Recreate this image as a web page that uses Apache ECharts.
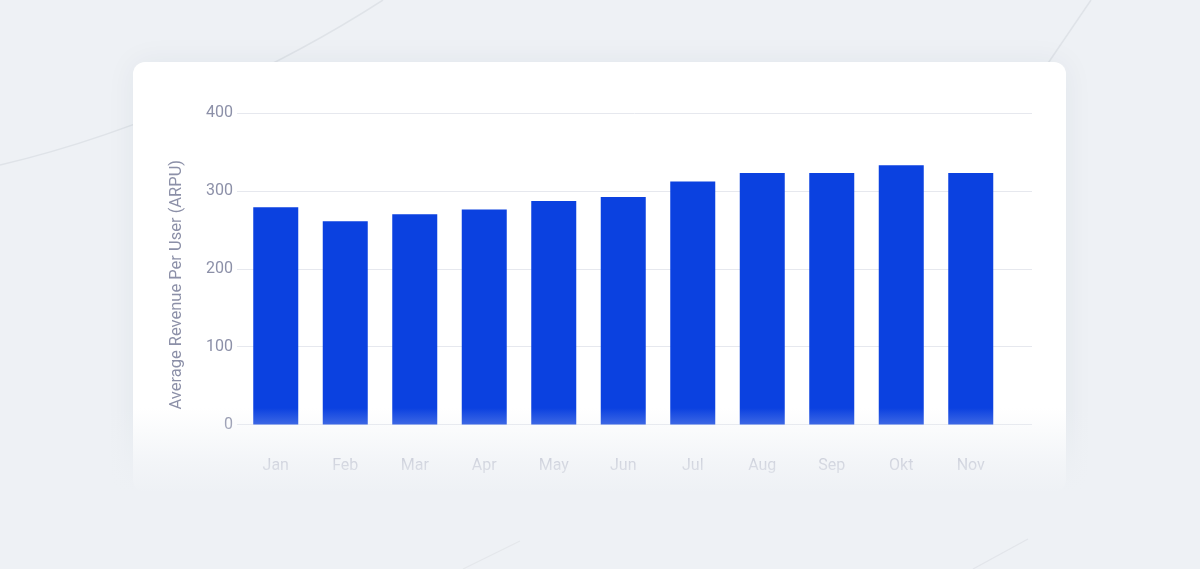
<!DOCTYPE html>
<html lang="en">
<head>
    <meta charset="UTF-8">
    <title>ARPU</title>
    <script src="https://cdn.jsdelivr.net/npm/echarts@6/dist/echarts.min.js"></script>
    <style>
        html, body {
            margin: 0;
            padding: 0;
            background: #eef1f5;
        }

        #chart {
            width: 1200px;
            height: 569px;
        }
    </style>
</head>
<body>
<div id="chart"></div>
<script>
    var months = ['Jan', 'Feb', 'Mar', 'Apr', 'May', 'Jun', 'Jul', 'Aug', 'Sep', 'Okt', 'Nov'];
    var arpu = [279, 261, 270, 276, 287, 292, 312, 323, 323, 333, 323];
    var yTicks = [0, 100, 200, 300, 400];

    var chart = echarts.init(document.getElementById('chart'));

    var labelGray = '#8c90a8';
    var lineGray = '#e6e8ee';

    var option = {
        backgroundColor: '#eef1f5',
        animation: false,
        textStyle: {fontFamily: 'Roboto'},
        graphic: [
            // faint background curves
            {
                type: 'bezierCurve', z: -20, silent: true,
                shape: {x1: 0, y1: 165, x2: 383, y2: 0, cpx1: 150, cpy1: 130, cpx2: 290, cpy2: 60},
                style: {stroke: '#dfe3e8', lineWidth: 1.5, fill: null}
            },
            {
                type: 'line', z: -20, silent: true,
                shape: {x1: 1040, y1: 75, x2: 1091, y2: 0},
                style: {stroke: '#dfe3e8', lineWidth: 1.5}
            },
            {
                type: 'line', z: -20, silent: true,
                shape: {x1: 463, y1: 569, x2: 520, y2: 541},
                style: {stroke: '#e4e7eb', lineWidth: 1.2}
            },
            {
                type: 'line', z: -20, silent: true,
                shape: {x1: 973, y1: 569, x2: 1028, y2: 539},
                style: {stroke: '#e2e5ea', lineWidth: 1.2}
            },
            // white card
            {
                type: 'rect', z: -10, silent: true,
                shape: {x: 133, y: 62, width: 933, height: 430, r: 12},
                style: {fill: '#ffffff', shadowBlur: 30, shadowColor: 'rgba(40,50,80,0.06)'}
            },
            // bottom fade into the page
            {
                type: 'rect', z: 100, silent: true,
                shape: {x: 100, y: 408, width: 1000, height: 130},
                style: {
                    fill: new echarts.graphic.LinearGradient(0, 0, 0, 1, [
                        {offset: 0, color: 'rgba(238,241,245,0)'},
                        {offset: 0.42, color: 'rgba(238,241,245,0.72)'},
                        {offset: 0.65, color: 'rgba(238,241,245,1)'},
                        {offset: 1, color: 'rgba(238,241,245,1)'}
                    ])
                }
            }
        ],
        grid: [
            {left: 241, right: 194.5, top: 113, bottom: 144.5},
            {left: 237, right: 168, top: 113, bottom: 144.5}
        ],
        xAxis: [
            {
                type: 'category',
                gridIndex: 0,
                data: months,
                axisLine: {show: false},
                axisTick: {show: false},
                axisLabel: {color: labelGray, fontSize: 16, margin: 33}
            },
            {
                type: 'value',
                gridIndex: 1,
                show: false
            }
        ],
        yAxis: [
            {
                type: 'value',
                gridIndex: 0,
                min: yTicks[0],
                max: yTicks[yTicks.length - 1],
                interval: 100,
                show: false
            },
            {
                type: 'value',
                gridIndex: 1,
                min: yTicks[0],
                max: yTicks[yTicks.length - 1],
                interval: 100,
                name: 'Average Revenue Per User (ARPU)',
                nameLocation: 'middle',
                nameGap: 52,
                nameTextStyle: {color: labelGray, fontSize: 16.5, padding: [0, 32, 0, 0]},
                axisLine: {show: false},
                axisTick: {show: false},
                axisLabel: {color: labelGray, fontSize: 16, margin: 4},
                splitLine: {lineStyle: {color: lineGray, width: 1}}
            }
        ],
        series: [
            {
                type: 'bar',
                xAxisIndex: 0,
                yAxisIndex: 0,
                data: arpu,
                barWidth: 45,
                itemStyle: {color: '#0b41e0'}
            }
        ]
    };

    chart.setOption(option);
</script>
</body>
</html>
